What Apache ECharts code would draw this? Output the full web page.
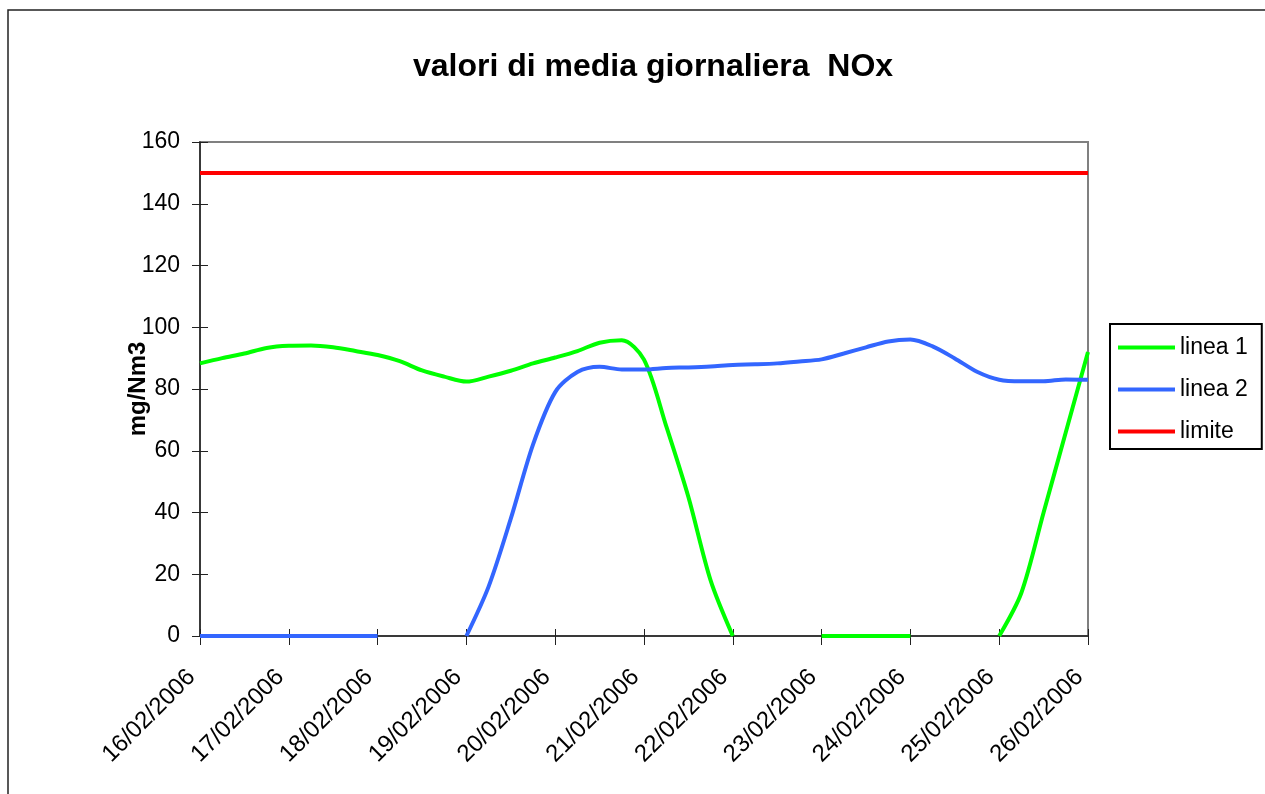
<!DOCTYPE html>
<html>
<head>
<meta charset="utf-8">
<title>valori di media giornaliera NOx</title>
<script src="https://cdn.jsdelivr.net/npm/echarts@6/dist/echarts.min.js"></script>
<style>
  html, body { margin: 0; padding: 0; background: #fff; }
  #chart { width: 1265px; height: 794px; }
</style>
</head>
<body>
<div id="chart"></div>
<script>
// giorni sull'asse x (4 valori al giorno, ogni 6 ore)
var days = ['16/02/2006', '17/02/2006', '18/02/2006', '19/02/2006', '20/02/2006', '21/02/2006',
  '22/02/2006', '23/02/2006', '24/02/2006', '25/02/2006', '26/02/2006']
var hours = ['00', '06', '12', '18']
var yTicks = [0, 20, 40, 60, 80, 100, 120, 140, 160]

var linea1 = [
  88.3, 90.0, 91.5, 93.3, 94.0, 94.1, 93.5, 92.3,
  91.0, 89.0, 86.0, 84.0, 82.4, 84.0, 85.9, 88.3,
  90.2, 92.3, 95.0, 95.8, 89.5, 68.0, 45.0, 18.0,
  0, null, null, null, 0, 0, 0, 0,
  0, null, null, null, 0, 14.0, 40.0, 66.0,
  92.0
]
var linea2 = [
  0, 0, 0, 0, 0, 0, 0, 0,
  0, null, null, null, 0, 16.0, 38.0, 62.0,
  79.0, 85.5, 87.2, 86.3, 86.3, 86.8, 87.0, 87.3,
  87.8, 88.0, 88.3, 88.9, 89.6, 91.5, 93.5, 95.4,
  96.0, 93.8, 89.9, 85.6, 83.0, 82.5, 82.5, 83.1,
  83.0
]
var limite = [
  150, 150, 150, 150, 150, 150, 150, 150,
  150, 150, 150, 150, 150, 150, 150, 150,
  150, 150, 150, 150, 150, 150, 150, 150,
  150, 150, 150, 150, 150, 150, 150, 150,
  150, 150, 150, 150, 150, 150, 150, 150,
  150
]

var categories = []
days.forEach(function (d, i) {
  hours.forEach(function (h) {
    if (i < days.length - 1 || h === '00') categories.push(d + ' ' + h)
  })
})

var font = 'Liberation Sans, Arial, sans-serif'
var chart = echarts.init(document.getElementById('chart'))

var option = {
  animation: false,
  backgroundColor: '#fff',
  title: {
    text: 'valori di media giornaliera  NOx',
    left: 648,
    textAlign: 'center',
    top: 46,
    textStyle: { fontFamily: font, fontSize: 32, fontWeight: 'bold', color: '#000' }
  },
  graphic: [{
    type: 'rect',
    shape: { x: 8, y: 10, width: 1400, height: 900 },
    style: { fill: 'none', stroke: '#222', lineWidth: 1.5 },
    silent: true
  }],
  legend: {
    orient: 'vertical',
    left: 1110,
    top: 324,
    padding: [12, 14, 6, 8],
    itemGap: 19,
    itemWidth: 57,
    itemHeight: 4,
    icon: 'rect',
    borderColor: '#000',
    borderWidth: 2,
    textStyle: { fontFamily: font, fontSize: 23, color: '#000' },
    data: ['linea 1', 'linea 2', 'limite']
  },
  grid: {
    left: 200,
    top: 142,
    width: 888,
    height: 494,
    show: true,
    borderColor: '#808080',
    borderWidth: 2
  },
  xAxis: [{
    type: 'category',
    boundaryGap: false,
    data: categories,
    axisLine: { lineStyle: { color: '#222', width: 1.5 } },
    axisTick: { interval: 3, length: 9, lineStyle: { color: '#222' } },
    axisLabel: {
      interval: 3,
      rotate: 45,
      margin: 29,
      padding: [0, 12, 0, 0],
      fontFamily: font,
      fontSize: 24,
      color: '#000',
      formatter: function (v) { return v.split(' ')[0] }
    },
    splitLine: { show: false }
  }, {
    type: 'category',
    position: 'bottom',
    boundaryGap: false,
    data: categories,
    axisLine: { show: false },
    axisTick: { inside: true, interval: 3, length: 7, lineStyle: { color: '#222' } },
    axisLabel: { show: false },
    splitLine: { show: false }
  }],
  yAxis: [{
    type: 'value',
    min: yTicks[0],
    max: yTicks[yTicks.length - 1],
    interval: 20,
    name: 'mg/Nm3',
    nameLocation: 'middle',
    nameRotate: 90,
    nameGap: 50,
    nameMoveOverlap: false,
    nameTextStyle: { fontFamily: font, fontSize: 24, fontWeight: 'bold', color: '#000' },
    axisLine: { show: true, lineStyle: { color: '#222', width: 1.5 } },
    axisTick: { show: true, length: 8, lineStyle: { color: '#222' } },
    axisLabel: { margin: 20, fontFamily: font, fontSize: 23, color: '#000' },
    splitLine: { show: false }
  }, {
    type: 'value',
    position: 'left',
    min: yTicks[0],
    max: yTicks[yTicks.length - 1],
    interval: 20,
    axisLine: { show: false },
    axisTick: { show: true, inside: true, length: 8, lineStyle: { color: '#222' } },
    axisLabel: { show: false },
    splitLine: { show: false }
  }],
  series: [{
    name: 'linea 1',
    type: 'line',
    data: linea1,
    smooth: 0.3,
    showSymbol: false,
    color: '#00ff00',
    lineStyle: { width: 4 }
  }, {
    name: 'linea 2',
    type: 'line',
    data: linea2,
    smooth: 0.3,
    showSymbol: false,
    color: '#3366ff',
    lineStyle: { width: 4 }
  }, {
    name: 'limite',
    type: 'line',
    data: limite,
    showSymbol: false,
    color: '#ff0000',
    lineStyle: { width: 4 }
  }]
}

chart.setOption(option)
</script>
</body>
</html>
